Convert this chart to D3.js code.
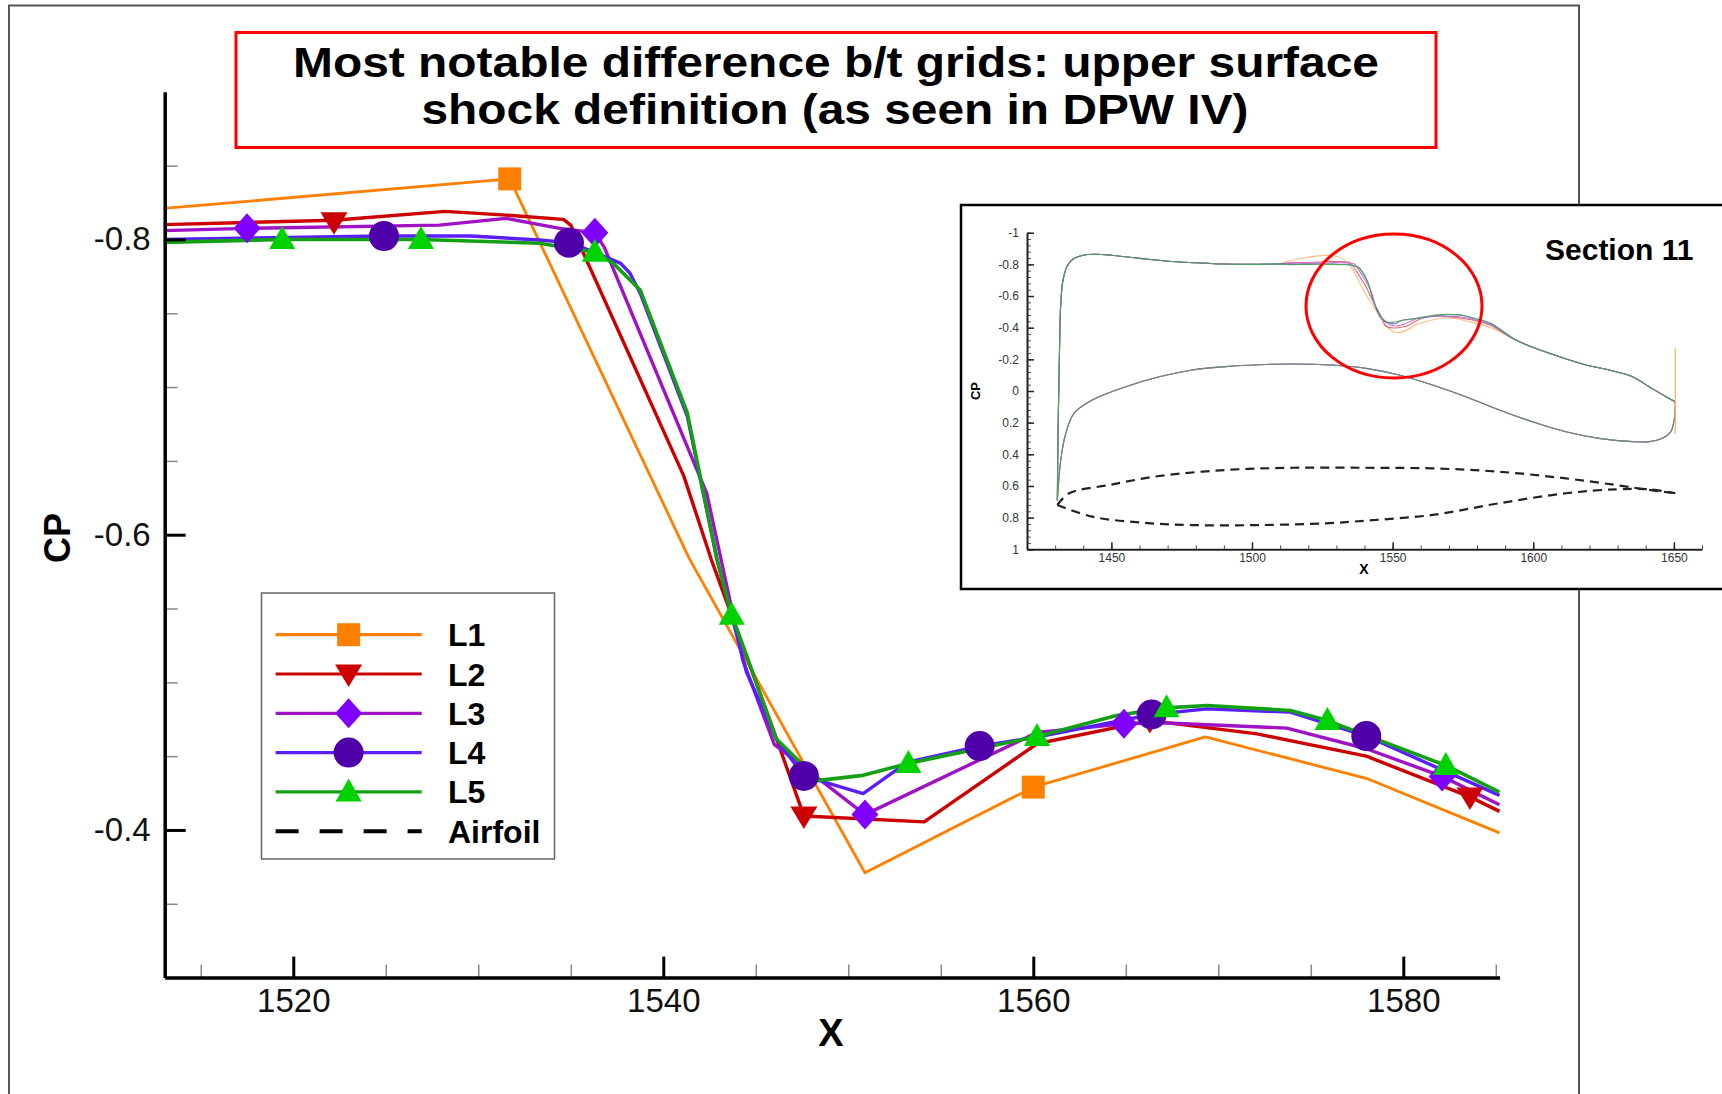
<!DOCTYPE html>
<meta charset="utf-8">
<html lang="en">
<style>
    body {
        margin: 0;
        background: #fff;
    }
    svg text {
        font-family: "Liberation Sans", Arial, sans-serif;
    }
</style>
<head>
    <meta charset="UTF-8">
    <script src="https://d3js.org/d3.v7.min.js"></script>
</head>
<body>
<svg width="1722" height="1094"></svg>
</body>
<script>

    // ---- data ----
    var seriesNames = ["L1", "L2", "L3", "L4", "L5"];

    var l1Line = [[1513.0, -0.821], [1531.7, -0.841], [1541.4, -0.584], [1550.9, -0.371], [1560.0, -0.429],
        [1569.3, -0.463], [1578.0, -0.435], [1585.2, -0.398]];
    var l1Symbols = [[1531.7, -0.841], [1560.0, -0.429]];

    var l2Line = [[1513.0, -0.810], [1522.2, -0.813], [1528.2, -0.819], [1531.5, -0.8165], [1534.6, -0.8136],
        [1535.0, -0.8097], [1541.1, -0.640], [1542.6, -0.583], [1546.0, -0.466], [1547.6, -0.4095],
        [1554.1, -0.4055], [1560.2, -0.4584], [1566.3, -0.4741], [1572.1, -0.4651], [1578.0, -0.450],
        [1583.6, -0.4224], [1585.2, -0.4126]];
    var l2Symbols = [[1522.2, -0.812], [1547.6, -0.4095], [1566.3, -0.4741], [1583.6, -0.4224]];

    var l3Line = [[1513.0, -0.806], [1517.5, -0.8075], [1527.9, -0.8097], [1531.5, -0.8143], [1534.4, -0.8075],
        [1536.3, -0.8045], [1536.8, -0.795], [1542.35, -0.628], [1544.3, -0.515], [1546.0, -0.458],
        [1550.9, -0.4104], [1560.2, -0.466], [1564.9, -0.4719], [1566.9, -0.4726], [1573.7, -0.469],
        [1578.0, -0.455], [1582.1, -0.4363], [1585.2, -0.4171]];
    var l3Symbols = [[1517.5, -0.8075], [1536.3, -0.8045], [1550.9, -0.4104], [1564.9, -0.4719], [1582.1, -0.4363]];

    var l4Line = [[1513.0, -0.800], [1524.9, -0.8023], [1529.6, -0.8023], [1533.3, -0.7996], [1534.9, -0.7978],
        [1536.2, -0.7917], [1537.7, -0.7838], [1538.2, -0.7771], [1538.75, -0.7636], [1541.3, -0.6802],
        [1542.9, -0.5834], [1544.5, -0.5068], [1546.1, -0.4618], [1547.6, -0.4366], [1548.4, -0.4336],
        [1550.8, -0.4246], [1553.2, -0.446], [1557.1, -0.4568], [1560.2, -0.4629], [1566.4, -0.4782],
        [1569.4, -0.482], [1573.9, -0.4798], [1578.0, -0.4636], [1585.2, -0.4234]];
    var l4Symbols = [[1524.9, -0.8023], [1534.9, -0.7978], [1547.6, -0.4366], [1557.1, -0.4568],
        [1566.4, -0.4782], [1578.0, -0.4636]];

    var l5Line = [[1513.0, -0.798], [1519.4, -0.800], [1526.9, -0.800], [1533.3, -0.7974], [1536.3, -0.7913],
        [1537.3, -0.7838], [1538.75, -0.7658], [1541.3, -0.6825], [1542.9, -0.5834], [1543.7, -0.5455],
        [1544.7, -0.5113], [1546.1, -0.4618], [1548.4, -0.4336], [1550.8, -0.437], [1553.25, -0.4451],
        [1560.2, -0.4633], [1564.5, -0.4775], [1567.2, -0.4827], [1569.4, -0.4843], [1573.9, -0.4809],
        [1575.9, -0.4741], [1582.3, -0.4437], [1585.2, -0.4257]];
    var l5Symbols = [[1519.4, -0.800], [1526.9, -0.800], [1536.3, -0.7913], [1543.7, -0.5455], [1553.25, -0.4451],
        [1560.2, -0.4633], [1567.2, -0.4827], [1575.9, -0.4741], [1582.3, -0.4437]];

    var xMajorTicks = [1520, 1540, 1560, 1580];
    var xTickLabels = ["1520", "1540", "1560", "1580"];
    var xMinorTicks = [1515, 1525, 1530, 1535, 1545, 1550, 1555, 1565, 1570, 1575, 1585];
    var yMajorTicks = [-0.8, -0.6, -0.4];
    var yTickLabels = ["-0.8", "-0.6", "-0.4"];
    var yMinorTicks = [-0.85, -0.75, -0.7, -0.65, -0.55, -0.5, -0.45, -0.35];

    // inset: whole section 11 Cp
    var insetUpperLead = [[1430.8, 0.69], [1431.0, 0.3], [1431.3, 0.0], [1431.6, -0.3], [1432.0, -0.55],
        [1432.8, -0.70], [1434.3, -0.79], [1436.5, -0.835], [1440, -0.858], [1444, -0.864], [1450, -0.858],
        [1460, -0.838], [1470, -0.82], [1480, -0.81], [1490, -0.802], [1500, -0.80], [1510, -0.803]];
    var insetUpperTail = [[1593.8, -0.322], [1605.7, -0.238], [1617.5, -0.171], [1629.4, -0.122],
        [1635.3, -0.090], [1641.2, -0.027], [1647.2, 0.036], [1650.5, 0.068]];
    var insetLower = [[1430.8, 0.69], [1432.0, 0.436], [1433.8, 0.267], [1436.7, 0.141], [1443.2, 0.057],
        [1455.1, -0.027], [1467.0, -0.090], [1478.8, -0.133], [1490.7, -0.154], [1502.5, -0.166],
        [1514.4, -0.171], [1528.6, -0.164], [1540.5, -0.143], [1552.3, -0.101], [1564.2, -0.038],
        [1576.0, 0.036], [1587.9, 0.120], [1599.7, 0.194], [1611.6, 0.257], [1623.4, 0.299], [1635.3, 0.320],
        [1641.2, 0.320], [1645.9, 0.299], [1648.9, 0.257], [1650.1, 0.183], [1650.5, 0.099], [1650.5, 0.068]];
    var teSpike = [[1650.5, -0.27], [1650.5, 0.27]];
    var airfoilUpper = [[1430.8, 0.72], [1435.0, 0.646], [1449.2, 0.594], [1467.0, 0.537], [1490.7, 0.499],
        [1514.4, 0.485], [1540.5, 0.485], [1564.2, 0.489], [1587.9, 0.510], [1611.6, 0.552], [1629.4, 0.594],
        [1641.2, 0.625], [1650.5, 0.646]];
    var airfoilLower = [[1430.8, 0.72], [1443.2, 0.794], [1461.0, 0.832], [1478.8, 0.847], [1502.5, 0.847],
        [1526.2, 0.836], [1540.5, 0.819], [1564.2, 0.783], [1587.9, 0.709], [1611.6, 0.646], [1629.4, 0.621],
        [1641.2, 0.621], [1650.5, 0.646]];

    var insetXTicks = [1450, 1500, 1550, 1600, 1650];
    var insetXLabels = ["1450", "1500", "1550", "1600", "1650"];
    var insetYTicks = [-1, -0.8, -0.6, -0.4, -0.2, 0, 0.2, 0.4, 0.6, 0.8, 1];
    var insetYLabels = ["-1", "-0.8", "-0.6", "-0.4", "-0.2", "0", "0.2", "0.4", "0.6", "0.8", "1"];

    var lineData = [l1Line, l2Line, l3Line, l4Line, l5Line];
    var symbolData = [l1Symbols, l2Symbols, l3Symbols, l4Symbols, l5Symbols];

    // ---- styles ----
    var lineColors = ["#ff8000", "#cc0000", "#a012c4", "#5a1eff", "#14a014"];
    var symbolColors = ["#ff8000", "#cc0000", "#8000ff", "#5000a8", "#00d200"];
    var insetColors = ["#ffb070", "#e05050", "#c060d0", "#6a50ff", "#40b040"];
    var lineWidths = [2.8, 3.4, 3.4, 3.4, 3.6];
    var symbolShapes = ["square", "triangleDown", "diamond", "circle", "triangleUp"];
    var shapePaths = {
        square: "M-11.5,-11.5H11.5V11.5H-11.5Z",
        triangleDown: "M0,13L-13.5,-9.5L13.5,-9.5Z",
        diamond: "M0,-15L13.5,0L0,15L-13.5,0Z",
        triangleUp: "M0,-13.5L-13,9.5L13,9.5Z"
    };

    var svg = d3.select("svg");

    svg.append("rect").attr("width", 1722).attr("height", 1094).attr("fill", "#fff");

    // outer slide frame
    svg.append("rect")
        .attr("x", 9).attr("y", 5.5)
        .attr("width", 1570).attr("height", 1120)
        .attr("fill", "none").attr("stroke", "#555").attr("stroke-width", 2);

    // title box
    svg.append("rect")
        .attr("x", 236).attr("y", 32.5)
        .attr("width", 1200).attr("height", 115)
        .attr("fill", "#fff").attr("stroke", "#ff0000").attr("stroke-width", 3);
    svg.append("text").attr("x", 836).attr("y", 77)
        .attr("text-anchor", "middle").style("font-size", "42px").style("font-weight", "bold")
        .attr("textLength", 1086).attr("lengthAdjust", "spacingAndGlyphs")
        .text("Most notable difference b/t grids: upper surface");
    svg.append("text").attr("x", 835).attr("y", 124)
        .attr("text-anchor", "middle").style("font-size", "42px").style("font-weight", "bold")
        .attr("textLength", 827).attr("lengthAdjust", "spacingAndGlyphs")
        .text("shock definition (as seen in DPW IV)");

    // ---- main plot ----
    var x = d3.scaleLinear().domain([1513.05, 1585.2]).range([164.7, 1499.5]);
    var y = d3.scaleLinear().domain([-0.9, -0.3]).range([91.8, 977.6]);

    var line = d3.line()
        .x(function (d) { return x(d[0]); })
        .y(function (d) { return y(d[1]); });

    var plot = svg.append("g");

    plot.selectAll(".cpline")
        .data(lineData)
        .enter().append("path")
        .attr("class", "cpline")
        .attr("d", line)
        .attr("fill", "none")
        .attr("stroke", function (d, i) { return lineColors[i]; })
        .attr("stroke-width", function (d, i) { return lineWidths[i]; })
        .attr("stroke-linejoin", "round");

    function drawSymbol(sel, shape, color) {
        if (shape === "circle") {
            sel.append("circle").attr("r", 15).attr("fill", color);
        } else {
            sel.append("path").attr("d", shapePaths[shape]).attr("fill", color);
        }
    }

    symbolData.forEach(function (pts, i) {
        pts.forEach(function (p) {
            var g = plot.append("g").attr("transform", "translate(" + x(p[0]) + "," + y(p[1]) + ")");
            drawSymbol(g, symbolShapes[i], symbolColors[i]);
        });
    });

    // minor ticks
    var xMinor = svg.append("g")
        .attr("transform", "translate(0," + y(-0.3) + ")")
        .call(d3.axisBottom(x).tickValues(xMinorTicks).tickSizeInner(-13).tickSizeOuter(0).tickFormat(""));
    var yMinor = svg.append("g")
        .attr("transform", "translate(" + x(1513.05) + ",0)")
        .call(d3.axisLeft(y).tickValues(yMinorTicks).tickSizeInner(-13).tickSizeOuter(0).tickFormat(""));
    [xMinor, yMinor].forEach(function (g) {
        g.select(".domain").remove();
        g.selectAll(".tick line").attr("stroke", "#888").attr("stroke-width", 1.5);
    });

    // major axes
    var xAxis = svg.append("g")
        .attr("transform", "translate(0," + y(-0.3) + ")")
        .call(d3.axisBottom(x).tickValues(xMajorTicks).tickSizeInner(-21).tickSizeOuter(0).tickPadding(11)
            .tickFormat(function (d, i) { return xTickLabels[i]; }));
    var yAxis = svg.append("g")
        .attr("transform", "translate(" + x(1513.05) + ",0)")
        .call(d3.axisLeft(y).tickValues(yMajorTicks).tickSizeInner(-21).tickSizeOuter(0).tickPadding(14)
            .tickFormat(function (d, i) { return yTickLabels[i]; }));
    [xAxis, yAxis].forEach(function (g) {
        g.select(".domain").attr("stroke", "#000").attr("stroke-width", 3.5);
        g.selectAll(".tick line").attr("stroke", "#000").attr("stroke-width", 3);
        g.selectAll(".tick text").attr("fill", "#111")
            .style("font-size", "33px").style("font-family", "'Liberation Sans', Arial, sans-serif");
    });

    svg.append("text")
        .attr("x", 831).attr("y", 1033).attr("dy", ".35em")
        .attr("text-anchor", "middle").style("font-size", "38px").style("font-weight", "bold")
        .text("X");
    svg.append("text")
        .attr("transform", "translate(57,538) rotate(-90)")
        .attr("dy", ".35em")
        .attr("text-anchor", "middle").style("font-size", "36px").style("font-weight", "bold")
        .text("CP");

    // ---- legend ----
    var legend = svg.append("g");
    legend.append("rect")
        .attr("x", 261.5).attr("y", 593)
        .attr("width", 293).attr("height", 266)
        .attr("fill", "#fff").attr("stroke", "#666").attr("stroke-width", 1.5);

    var legendRows = seriesNames.concat(["Airfoil"]);
    legendRows.forEach(function (name, i) {
        var ry = 634.7 + i * 39.3;
        var isAirfoil = i === seriesNames.length;
        legend.append("line")
            .attr("x1", 275.6).attr("x2", 421.7).attr("y1", ry).attr("y2", ry)
            .attr("stroke", isAirfoil ? "#000" : lineColors[i])
            .attr("stroke-width", isAirfoil ? 4 : 3.2)
            .attr("stroke-dasharray", isAirfoil ? "23,21" : null);
        if (!isAirfoil) {
            var g = legend.append("g").attr("transform", "translate(348.6," + ry + ")");
            drawSymbol(g, symbolShapes[i], symbolColors[i]);
        }
        legend.append("text")
            .attr("x", 448).attr("y", ry).attr("dy", ".36em")
            .style("font-size", "32px").style("font-weight", "bold")
            .text(name);
    });

    // ---- inset ----
    var inset = svg.append("g");
    inset.append("rect")
        .attr("x", 961).attr("y", 205)
        .attr("width", 800).attr("height", 384)
        .attr("fill", "#fff").attr("stroke", "#000").attr("stroke-width", 2.5);

    var ix = d3.scaleLinear().domain([1420, 1660]).range([1027, 1702]);
    var iy = d3.scaleLinear().domain([-1, 1]).range([232.7, 549.3]);

    var iline = d3.line()
        .curve(d3.curveCatmullRom.alpha(0.5))
        .x(function (d) { return ix(d[0]); })
        .y(function (d) { return iy(d[1]); });

    lineData.forEach(function (pts, i) {
        var upper = insetUpperLead.concat(pts, insetUpperTail);
        inset.append("path").attr("d", iline(upper))
            .attr("fill", "none").attr("stroke", insetColors[i])
            .attr("stroke-width", 1.1).attr("stroke-opacity", 0.85);
        inset.append("path").attr("d", iline(insetLower))
            .attr("fill", "none").attr("stroke", insetColors[i])
            .attr("stroke-width", 1.1).attr("stroke-opacity", 0.6);
    });
    inset.append("path").attr("d", iline(teSpike))
        .attr("fill", "none").attr("stroke", "#ffb060").attr("stroke-width", 1.2);

    [airfoilUpper, airfoilLower].forEach(function (pts) {
        inset.append("path").attr("d", iline(pts))
            .attr("fill", "none").attr("stroke", "#222")
            .attr("stroke-width", 2.2).attr("stroke-dasharray", "9,6");
    });

    // inset axes
    var ixMinor = inset.append("g")
        .attr("transform", "translate(0," + iy(1) + ")")
        .call(d3.axisBottom(ix).tickValues(d3.range(1430, 1661, 10)).tickSizeInner(-4).tickSizeOuter(0).tickFormat(""));
    var iyMinor = inset.append("g")
        .attr("transform", "translate(" + ix(1420) + ",0)")
        .call(d3.axisLeft(iy).tickValues(d3.range(-1, 1.0001, 0.04)).tickSizeInner(-4).tickSizeOuter(0).tickFormat(""));
    [ixMinor, iyMinor].forEach(function (g) {
        g.select(".domain").remove();
        g.selectAll(".tick line").attr("stroke", "#555").attr("stroke-width", 1);
    });

    var ixAxis = inset.append("g")
        .attr("transform", "translate(0," + iy(1) + ")")
        .call(d3.axisBottom(ix).tickValues(insetXTicks).tickSizeInner(-7).tickSizeOuter(0).tickPadding(4)
            .tickFormat(function (d, i) { return insetXLabels[i]; }));
    var iyAxis = inset.append("g")
        .attr("transform", "translate(" + ix(1420) + ",0)")
        .call(d3.axisLeft(iy).tickValues(insetYTicks).tickSizeInner(-7).tickSizeOuter(0).tickPadding(8)
            .tickFormat(function (d, i) { return insetYLabels[i]; }));
    [ixAxis, iyAxis].forEach(function (g) {
        g.select(".domain").attr("stroke", "#222").attr("stroke-width", 2);
        g.selectAll(".tick line").attr("stroke", "#222").attr("stroke-width", 1.5);
        g.selectAll(".tick text").attr("fill", "#333")
            .style("font-size", "12px").style("font-family", "'Liberation Sans', Arial, sans-serif");
    });

    inset.append("text")
        .attr("x", 1364).attr("y", 569).attr("dy", ".35em")
        .attr("text-anchor", "middle").style("font-size", "14px").style("font-weight", "bold")
        .text("X");
    inset.append("text")
        .attr("transform", "translate(975,391) rotate(-90)")
        .attr("dy", ".35em")
        .attr("text-anchor", "middle").style("font-size", "13px").style("font-weight", "bold")
        .text("CP");

    inset.append("text")
        .attr("x", 1545).attr("y", 260)
        .style("font-size", "30px").style("font-weight", "bold")
        .text("Section 11");

    // red circle round the shock
    inset.append("ellipse")
        .attr("cx", 1394).attr("cy", 306).attr("rx", 88).attr("ry", 72)
        .attr("fill", "none").attr("stroke", "#ff0000").attr("stroke-width", 3);

</script>
</html>
